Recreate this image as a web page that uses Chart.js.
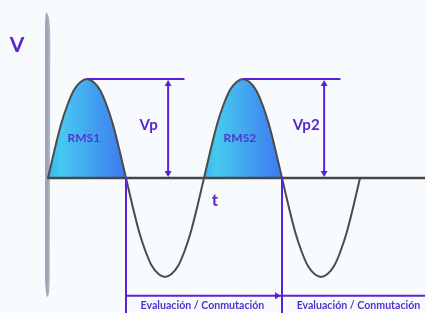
<!DOCTYPE html>
<html>
<head>
<meta charset="utf-8">
<script src="https://cdn.jsdelivr.net/npm/chart.js@4.4.0/dist/chart.umd.min.js"></script>
<style>
html, body { margin: 0; padding: 0; background: #f7fbfd; }
canvas { display: block; }
</style>
</head>
<body>
<canvas id="c" width="425" height="313"></canvas>
<script>
// time in ms (one period = 20 ms), voltage normalised to the peak
const waveT = [0, 0.83, 1.67, 2.5, 3.33, 4.17, 5, 5.83, 6.67, 7.5, 8.33, 9.17,
               10, 10.83, 11.67, 12.5, 13.33, 14.17, 15, 15.83, 16.67, 17.5, 18.33, 19.17,
               20, 20.83, 21.67, 22.5, 23.33, 24.17, 25, 25.83, 26.67, 27.5, 28.33, 29.17,
               30, 30.83, 31.67, 32.5, 33.33, 34.17, 35, 35.83, 36.67, 37.5, 38.33, 39.17, 40];
const waveV = [0, 0.28, 0.54, 0.74, 0.89, 0.97, 1, 0.97, 0.89, 0.74, 0.54, 0.28,
               0, -0.28, -0.54, -0.74, -0.89, -0.97, -1, -0.97, -0.89, -0.74, -0.54, -0.28,
               0, 0.28, 0.54, 0.74, 0.89, 0.97, 1, 0.97, 0.89, 0.74, 0.54, 0.28,
               0, -0.28, -0.54, -0.74, -0.89, -0.97, -1, -0.97, -0.89, -0.74, -0.54, -0.28, 0];

const lobeStart = [0, 20];
const lobeEnd = [10, 30];
const rmsLabels = ['RMS1', 'RMS2'];

const peakT = [5, 25];
const peakV = [1, 1];
const peakLabels = ['Vp', 'Vp2'];

const segStart = [10, 30];
const segLabels = ['Evaluación / Conmutación', 'Evaluación / Conmutación'];

const X_MIN = -6.15, X_MAX = 48.33;
const Y_MIN = -1.364, Y_MAX = 1.798;

const purple = '#5a22d4';
const wavePoints = waveT.map((t, i) => ({x: t, y: waveV[i]}));

function lobeGradient(ctx) {
    const chart = ctx.chart;
    const area = chart.chartArea;
    if (!area) return 'rgba(0,0,0,0)';
    const xs = chart.scales.x;
    const w = area.right - area.left;
    const g = chart.ctx.createLinearGradient(area.left, 0, area.right, 0);
    lobeStart.forEach((s, i) => {
        const a = (xs.getPixelForValue(s) - area.left) / w;
        const b = (xs.getPixelForValue(lobeEnd[i]) - area.left) / w;
        g.addColorStop(a, '#3ab4eb');
        g.addColorStop(a + 0.03, '#47c9f1');
        g.addColorStop(b, '#3c79ef');
    });
    return g;
}

function arrowHead(c, x, y, dir) {
    // dir: 'up', 'down', 'right'
    c.beginPath();
    if (dir == 'up') { c.moveTo(x, y); c.lineTo(x - 3.5, y + 6); c.lineTo(x + 3.5, y + 6); }
    else if (dir == 'down') { c.moveTo(x, y); c.lineTo(x - 3.5, y - 6); c.lineTo(x + 3.5, y - 6); }
    else { c.moveTo(x, y); c.lineTo(x - 6, y - 3.5); c.lineTo(x - 6, y + 3.5); }
    c.closePath();
    c.fill();
}

const annotate = {
    id: 'annotate',
    beforeDatasetsDraw(chart) {
        const c = chart.ctx, xs = chart.scales.x, ys = chart.scales.y;
        // vertical V axis (grey bar, slightly tapered)
        const x0 = xs.getPixelForValue(-0.06);
        const top = ys.getPixelForValue(1.67), bot = ys.getPixelForValue(-1.2);
        const g = c.createLinearGradient(x0 - 3, 0, x0 + 3, 0);
        g.addColorStop(0, '#8f98ab');
        g.addColorStop(1, '#b3bac7');
        c.save();
        c.fillStyle = g;
        c.beginPath();
        c.moveTo(x0 - 1, top);
        c.quadraticCurveTo(x0 + 3, top + 2, x0 + 2.8, top + 30);
        c.lineTo(x0 + 2.2, bot - 20);
        c.quadraticCurveTo(x0 + 2, bot, x0, bot);
        c.quadraticCurveTo(x0 - 2, bot, x0 - 2.4, bot - 20);
        c.lineTo(x0 - 2.4, top + 20);
        c.quadraticCurveTo(x0 - 2.4, top, x0 - 1, top);
        c.fill();
        c.restore();
    },
    afterDatasetsDraw(chart) {
        const c = chart.ctx, xs = chart.scales.x, ys = chart.scales.y;
        const px = v => xs.getPixelForValue(v);
        const py = v => ys.getPixelForValue(v);
        c.save();
        c.strokeStyle = purple;
        c.fillStyle = purple;
        c.lineWidth = 2;

        // peak lines and Vp arrows
        peakT.forEach((t, i) => {
            const top = py(peakV[i]), base = py(0);
            c.beginPath();
            c.moveTo(px(t), top);
            c.lineTo(px(t + 12.5), top);
            c.stroke();
            const ax = px(t + 10.4);
            c.beginPath();
            c.moveTo(ax, top + 4);
            c.lineTo(ax, base - 4);
            c.stroke();
            arrowHead(c, ax, top + 1, 'up');
            arrowHead(c, ax, base - 1, 'down');
        });

        // evaluation / commutation segments
        const yb = py(-1.19);
        segStart.forEach((s, i) => {
            c.beginPath();
            c.moveTo(px(s), py(0));
            c.lineTo(px(s), chart.chartArea.bottom);
            c.stroke();
        });
        c.beginPath();
        c.moveTo(px(segStart[0]), yb);
        c.lineTo(chart.chartArea.right, yb);
        c.stroke();
        arrowHead(c, px(segStart[1]) - 1, yb, 'right');

        // texts
        c.textAlign = 'center';
        c.textBaseline = 'middle';
        c.font = 'bold 21px Lato';
        c.fillText('V', px(-3.97), py(1.34));
        c.font = 'bold 17px Lato';
        c.fillText('t', px(21.4), py(-0.23));
        c.font = 'bold 15px Lato';
        peakLabels.forEach((l, i) => c.fillText(l, px(peakT[i] + (i == 0 ? 7.9 : 8.1)), py(peakV[i] * 0.535)));
        c.font = 'bold 12px Lato';
        c.fillStyle = '#5534cc';
        rmsLabels.forEach((l, i) => c.fillText(l, px(lobeStart[i] + 4.6), py(0.4)));
        c.font = 'bold 10.6px Lato';
        c.fillStyle = '#5730cc';
        segLabels.forEach((l, i) => c.fillText(l, px(segStart[i] + 9.8), py(-1.285)));
        c.restore();
    }
};

new Chart(document.getElementById('c'), {
    type: 'line',
    data: {
        datasets: [
            {   // wave outline
                data: wavePoints,
                borderColor: '#4b4b4b',
                borderWidth: 2,
                pointRadius: 0,
                cubicInterpolationMode: 'monotone',
                fill: false
            },
            {   // time axis
                data: [{x: -0.1, y: 0}, {x: X_MAX, y: 0}],
                borderColor: '#474747',
                borderWidth: 2.5,
                pointRadius: 0,
                fill: false
            },
            {   // positive half cycles filled
                data: wavePoints,
                borderWidth: 0,
                borderColor: 'rgba(0,0,0,0)',
                backgroundColor: lobeGradient,
                pointRadius: 0,
                cubicInterpolationMode: 'monotone',
                fill: {target: 'origin', below: 'rgba(0,0,0,0)'}
            }
        ]
    },
    options: {
        responsive: false,
        animation: false,
        layout: {padding: 0},
        plugins: {legend: {display: false}, tooltip: {enabled: false}},
        scales: {
            x: {type: 'linear', min: X_MIN, max: X_MAX, display: false},
            y: {min: Y_MIN, max: Y_MAX, display: false}
        }
    },
    plugins: [annotate]
});
</script>
</body>
</html>
